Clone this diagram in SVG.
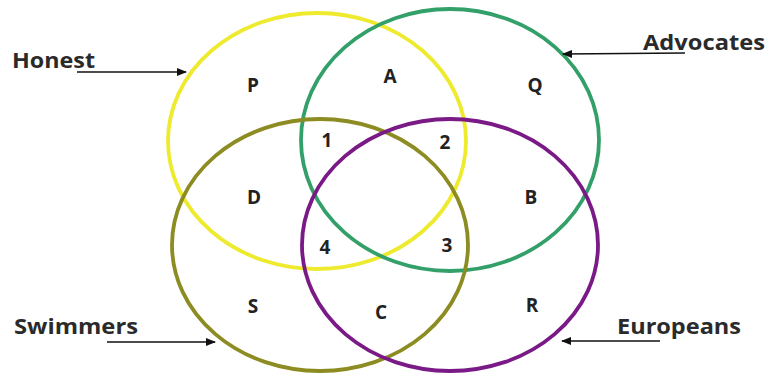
<svg xmlns="http://www.w3.org/2000/svg" width="769" height="374" viewBox="0 0 769 374">
<style>
.c{fill:none;stroke-width:3.8}
.lbl{font-family:"Open Sans","Liberation Sans",sans-serif;font-weight:bold;font-size:21px;fill:#2a2a2a}
.r{font-family:"Open Sans","Liberation Sans",sans-serif;font-weight:bold;font-size:19px;fill:#222;text-anchor:middle}
.a{stroke:#111;stroke-width:1.6;fill:none;marker-end:url(#ah)}
</style>
<defs>
<marker id="ah" markerWidth="10" markerHeight="8" refX="9" refY="4" orient="auto" markerUnits="userSpaceOnUse">
<path d="M0,0 L10,4 L0,8 z" fill="#111"/>
</marker>
</defs>
<rect width="769" height="374" fill="#fff"/>
<g id="honest"><ellipse class="c" cx="317" cy="141" rx="149" ry="128" stroke="#eeea2e"/></g>
<g id="advocates"><ellipse class="c" cx="450" cy="140" rx="149" ry="131" stroke="#33a06a"/></g>
<g id="swimmers"><ellipse class="c" cx="320" cy="245" rx="148" ry="126" stroke="#8c8c22"/></g>
<g id="europeans"><ellipse class="c" cx="450" cy="245" rx="148" ry="126" stroke="#7a1a86"/></g>
<g id="connectors">
<line class="a" x1="77" y1="72" x2="186" y2="72"/>
<line class="a" x1="685" y1="53" x2="563" y2="54"/>
<line class="a" x1="107" y1="342" x2="215" y2="342"/>
<line class="a" x1="660" y1="341" x2="562" y2="341"/>
</g>
<g id="labels">
<text class="lbl" x="12" y="68" textLength="83" lengthAdjust="spacingAndGlyphs">Honest</text>
<text class="lbl" x="643" y="50" textLength="122" lengthAdjust="spacingAndGlyphs">Advocates</text>
<text class="lbl" x="14" y="334" textLength="124" lengthAdjust="spacingAndGlyphs">Swimmers</text>
<text class="lbl" x="617" y="334" textLength="124" lengthAdjust="spacingAndGlyphs">Europeans</text>
</g>
<g id="regions">
<text class="r" x="253" y="92">P</text>
<text class="r" x="390" y="83">A</text>
<text class="r" x="535" y="92">Q</text>
<text class="r" x="327" y="147">1</text>
<text class="r" x="445" y="149">2</text>
<text class="r" x="254" y="204">D</text>
<text class="r" x="531" y="204">B</text>
<text class="r" x="325" y="254">4</text>
<text class="r" x="447" y="252">3</text>
<text class="r" x="253" y="313">S</text>
<text class="r" x="381" y="319">C</text>
<text class="r" x="532" y="312">R</text>
</g>
</svg>
